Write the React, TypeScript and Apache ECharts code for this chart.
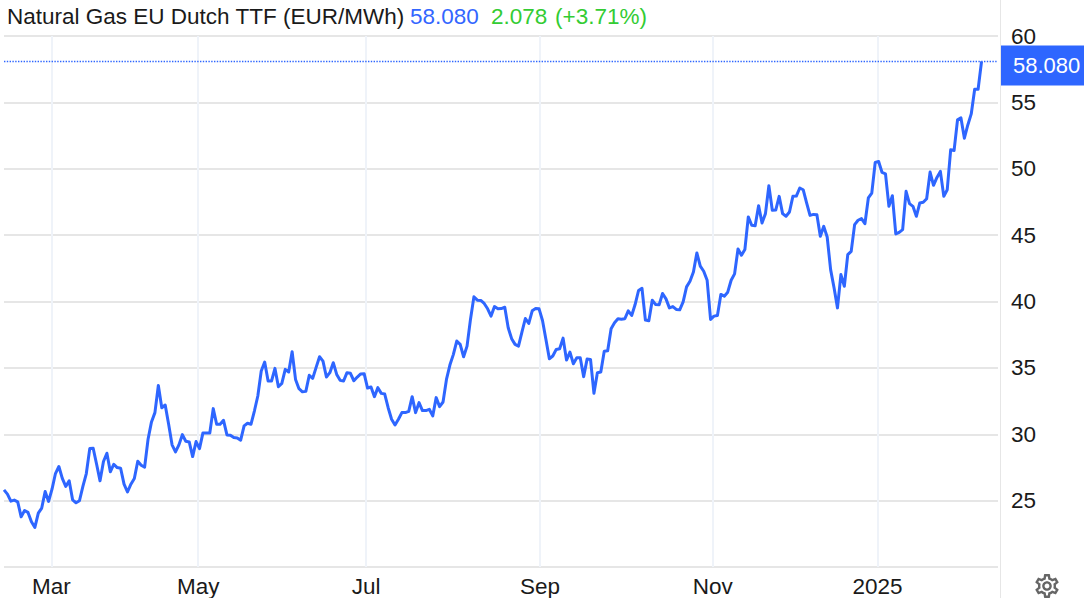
import React, { useEffect, useRef } from "react";
import * as echarts from "echarts";

const titleText = "Natural Gas EU Dutch TTF (EUR/MWh)";
const lastPrice = 58.08;
const changeText = "2.078";
const changePctText = "(+3.71%)";

const monthLabels = ["Mar", "May", "Jul", "Sep", "Nov", "2025"];
const monthSessions = [13.8, 56.6, 105.6, 156.3, 206.6, 254.7];

const prices2024a = [
  25.81, 25.49, 24.96, 25.04, 24.91, 23.78, 24.25, 24.11, 23.41, 22.98, 24.06, 24.44, 25.69, 24.94, 25.86, 27.04,
  27.57, 26.67, 26.07, 26.49, 25.06, 24.84, 24.99, 26.07, 27.04, 28.92, 28.95, 27.74, 26.49, 27.95, 28.57, 27.17,
  27.74, 27.49, 27.44, 26.24, 25.65, 26.24, 26.67, 27.97, 27.67, 27.52, 29.62, 30.93, 31.63, 33.68, 32.0, 32.2,
  30.75, 29.2, 28.67, 29.2, 29.97, 29.47, 29.42, 28.32, 29.45, 28.92, 30.1, 30.1, 30.1, 31.93, 30.75, 30.75,
  31.05, 29.95, 29.93, 29.75, 29.72, 29.55, 30.63, 30.83, 30.75, 31.75, 32.88,
];
const prices2024b = [
  34.76, 35.44, 34.01, 34.01, 34.96, 33.58, 33.83, 34.89, 34.69, 36.22, 34.13, 33.43, 33.2, 33.23, 34.44, 34.21,
  35.04, 35.84, 35.51, 34.31, 34.64, 35.39, 34.51, 34.06, 34.01, 34.64, 34.59, 34.03, 34.31, 34.54, 34.56, 33.48,
  33.56, 32.83, 33.51, 33.08, 33.03, 32.0, 31.13, 30.7, 31.13, 31.63, 31.63, 31.73, 32.83, 31.63, 32.38, 31.78,
  31.78, 31.88, 31.38, 32.76, 32.08, 32.43, 34.13, 35.21, 36.0, 37.02, 36.77, 35.84, 36.64, 38.65, 40.35, 40.1,
  40.08, 39.85, 39.45, 38.9, 39.62, 39.45, 39.47, 39.57,
];
const prices2024c = [
  38.02, 37.2, 36.77, 36.64, 37.69, 38.72, 38.35, 39.3, 39.47, 39.45, 38.57, 37.14, 35.69, 35.89, 36.39, 36.44,
  37.24, 35.59, 36.19, 35.31, 35.76, 35.76, 34.34, 35.66, 35.64, 33.08, 34.64, 34.69, 36.26, 36.29, 37.95, 38.4,
  38.7, 38.67, 38.7, 39.3, 38.95, 39.77, 40.83, 41.0, 38.6, 38.55, 40.1, 39.77, 39.75, 40.6, 40.2, 39.52, 39.62,
  39.4, 39.37, 39.97, 41.1, 41.53, 42.23, 43.66, 42.66, 42.28, 41.6, 38.65, 38.9, 38.95, 40.53, 40.4, 40.7, 41.6,
  42.08, 43.96, 43.48, 43.91,
];
const prices2025 = [
  46.37, 45.74, 45.71, 47.22, 45.91, 46.62, 48.72, 46.87, 46.89, 47.92, 46.62, 46.42, 46.74, 47.92, 47.94, 48.55,
  48.42, 47.42, 46.49, 46.56, 46.54, 44.91, 45.66, 44.86, 42.4, 41.03, 39.52, 42.03, 41.15, 43.53, 43.78, 45.79,
  46.12, 46.24, 45.86, 47.8, 48.17, 50.47, 50.55, 49.72, 49.62, 47.17, 47.97, 45.09, 45.21, 45.41, 48.3, 47.37,
  47.17, 46.42, 47.42, 47.47, 47.74, 49.75, 48.75, 49.35, 49.8, 47.92, 48.42, 51.43, 51.38, 53.68, 53.83, 52.3,
  53.3, 54.13, 55.99, 55.99, 58.08,
];
const prices = [...prices2024a, ...prices2024b, ...prices2024c, ...prices2025];

const gearPath =
  "M19.43 12.98c.04-.32.07-.64.07-.98s-.03-.66-.07-.98l2.11-1.65c.19-.15.24-.42.12-.64l-2-3.46c-.12-.22-.39-.3-.61-.22l-2.49 1c-.52-.4-1.08-.73-1.69-.98l-.38-2.65C14.46 2.18 14.25 2 14 2h-4c-.25 0-.46.18-.49.42l-.38 2.65c-.61.25-1.17.59-1.69.98l-2.49-1c-.23-.09-.49 0-.61.22l-2 3.46c-.13.22-.07.49.12.64l2.11 1.65c-.04.32-.07.65-.07.98s.03.66.07.98l-2.11 1.65c-.19.15-.24.42-.12.64l2 3.46c.12.22.39.3.61.22l2.49-1c.52.4 1.08.73 1.69.98l.38 2.65c.03.24.24.42.49.42h4c.25 0 .46-.18.49-.42l.38-2.65c.61-.25 1.17-.59 1.69-.98l2.49 1c.23.09.49 0 .61-.22l2-3.46c.12-.22.07-.49-.12-.64l-2.11-1.65zm-1.98-1.71c.04.31.05.52.05.73 0 .21-.02.43-.05.73l-.14 1.13.89.7 1.08.84-.7 1.21-1.27-.51-1.04-.42-.9.68c-.43.32-.84.56-1.25.73l-1.06.43-.16 1.13-.2 1.35h-1.4l-.19-1.35-.16-1.13-1.06-.43c-.43-.18-.83-.41-1.23-.71l-.91-.7-1.06.43-1.27.51-.7-1.21 1.08-.84.89-.7-.14-1.13c-.03-.31-.05-.54-.05-.74s.02-.43.05-.73l.14-1.13-.89-.7-1.08-.84.7-1.21 1.27.51 1.04.42.9-.68c.43-.32.84-.56 1.25-.73l1.06-.43.16-1.13.2-1.35h1.39l.19 1.35.16 1.13 1.06.43c.43.18.83.41 1.23.71l.91.7 1.06-.43 1.27-.51.7 1.21-1.07.85-.89.7.14 1.13zM12 8c-2.21 0-4 1.79-4 4s1.79 4 4 4 4-1.79 4-4-1.79-4-4-4zm0 6c-1.1 0-2-.9-2-2s.9-2 2-2 2 .9 2 2-.9 2-2 2z";
echarts.graphic.registerShape("gear", echarts.graphic.extendPath(gearPath, {}) as any);

const FONT = "'Liberation Sans', Arial, sans-serif";
const BLUE = "#2e66ff";
const TEXT = "#1a1a1a";

export default function App() {
  const ref = useRef<HTMLDivElement>(null);
  useEffect(() => {
    document.body.style.margin = "0";
    const chart = echarts.init(ref.current!, undefined, { renderer: "svg" });
    chart.setOption({
      animation: false,
      backgroundColor: "#fff",
      textStyle: { fontFamily: FONT },
      grid: { left: 4, top: 36, width: 994, height: 532, containLabel: false },
      xAxis: {
        type: "value",
        min: 0,
        max: 289.8,
        axisLine: { show: false },
        axisTick: { show: false, customValues: monthSessions },
        axisLabel: {
          customValues: monthSessions,
          formatter: (v: number) => monthLabels[monthSessions.indexOf(v)] ?? "",
          color: TEXT,
          fontSize: 22.5,
          fontFamily: FONT,
          margin: 8,
          showMinLabel: true,
          showMaxLabel: true,
          hideOverlap: false,
        },
        splitLine: { show: true, lineStyle: { color: "#eff3f9", width: 2 } },
      },
      yAxis: {
        type: "value",
        position: "right",
        min: 20,
        max: 60,
        interval: 5,
        offset: 2,
        axisLine: { show: false },
        axisTick: { show: true, length: 7, lineStyle: { color: "#e6e6e6", width: 1 } },
        axisLabel: {
          color: TEXT,
          fontSize: 22.5,
          fontFamily: FONT,
          margin: 11,
          formatter: (v: number) => (v === 20 ? "" : String(v)),
        },
        splitLine: { show: true, lineStyle: { color: "#e6e6e6", width: 2 } },
      },
      series: [
        {
          type: "line",
          color: BLUE,
          data: prices.map((v, i) => [i, v]),
          showSymbol: false,
          symbol: "none",
          lineStyle: { color: BLUE, width: 3, join: "round" },
          z: 5,
          markLine: {
            silent: true,
            symbol: "none",
            animation: false,
            lineStyle: { color: BLUE, type: "dotted", width: 1.4, opacity: 1 },
            label: {
              show: true,
              position: "end",
              distance: 3,
              offset: [0, 4],
              formatter: () => lastPrice.toFixed(3),
              color: "#fff",
              fontSize: 22,
              fontFamily: FONT,
              backgroundColor: BLUE,
              width: 71,
              height: 40,
              lineHeight: 40,
              padding: [0, 0, 0, 12],
              align: "left",
            },
            data: [{ yAxis: lastPrice }],
          },
        },
      ],
      graphic: [
        { type: "line", z: 1, shape: { x1: 1000.5, y1: 0, x2: 1000.5, y2: 598 }, style: { stroke: "#e6e6e6", lineWidth: 1 } },
        { type: "text", x: 7, y: 16, style: { text: titleText, font: `22.5px ${FONT}`, fill: TEXT, verticalAlign: "middle" } },
        { type: "text", x: 410, y: 16, style: { text: lastPrice.toFixed(3), font: `22.5px ${FONT}`, fill: "#3366ff", verticalAlign: "middle" } },
        { type: "text", x: 491, y: 16, style: { text: changeText, font: `22.5px ${FONT}`, fill: "#33cc33", verticalAlign: "middle" } },
        { type: "text", x: 555, y: 16, style: { text: changePctText, font: `22.5px ${FONT}`, fill: "#33cc33", verticalAlign: "middle" } },
        { type: "gear", x: 1032.6, y: 571.6, scaleX: 1.2, scaleY: 1.2, style: { fill: "#666666" } },
      ],
    });
    return () => chart.dispose();
  }, []);
  return <div ref={ref} style={{ width: 1084, height: 598 }} />;
}
